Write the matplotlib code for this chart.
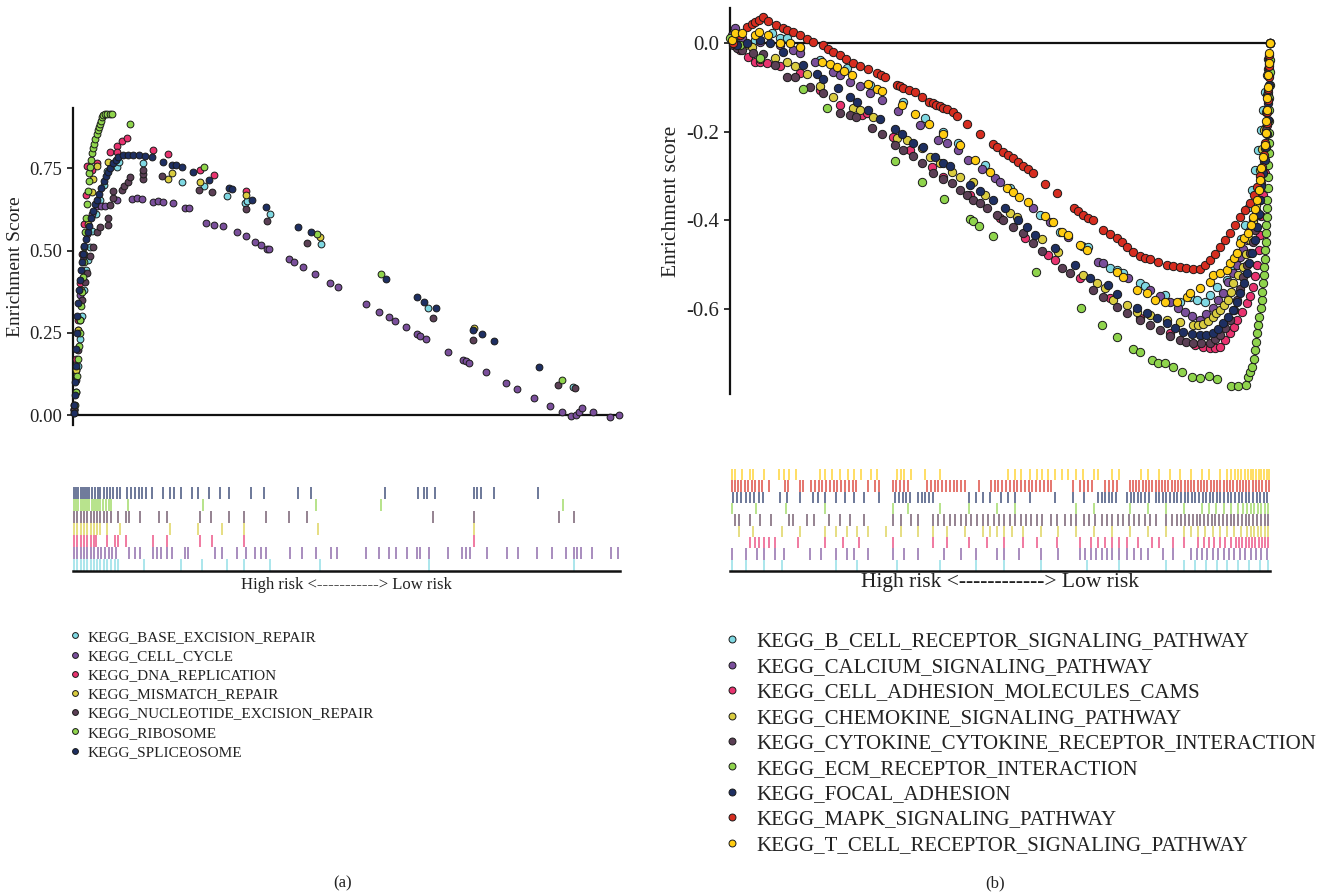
import matplotlib
matplotlib.use('Agg')
import matplotlib.pyplot as plt
from matplotlib.lines import Line2D
from matplotlib.ticker import FixedLocator, FormatStrFormatter

plt.rcParams['font.family'] = ['Liberation Serif', 'DejaVu Serif']

# ---------------- data: (rank %, enrichment score) ----------------
# panel (a)
base_excision = [(0.2, 0.02), (0.5, 0.07), (0.9, 0.15), (1.3, 0.23), (1.6, 0.30), (2.0, 0.38), (2.4, 0.44),
                 (2.7, 0.47), (3.1, 0.51), (3.5, 0.56), (4.2, 0.61), (4.9, 0.655), (5.6, 0.70), (6.2, 0.741),
                 (8.0, 0.753), (8.4, 0.768), (12.8, 0.765), (19.9, 0.707), (23.9, 0.695), (28.2, 0.665),
                 (31.4, 0.643), (31.8, 0.649), (36.0, 0.61), (45.3, 0.521), (64.9, 0.326), (91.4, 0.085)]
cell_cycle = [(0.2, 0.015), (0.55, 0.137), (0.9, 0.26), (1.3, 0.366), (1.8, 0.47), (2.6, 0.55), (3.5, 0.61),
              (4.4, 0.634), (5.1, 0.634), (5.85, 0.634), (8.0, 0.655), (10.8, 0.658), (11.7, 0.66), (12.6, 0.658),
              (14.6, 0.646), (15.5, 0.649), (16.5, 0.646), (18.3, 0.643), (20.5, 0.628), (21.2, 0.628),
              (24.3, 0.585), (25.8, 0.579), (27.4, 0.576), (30.0, 0.555), (31.6, 0.543), (33.3, 0.527),
              (34.4, 0.518), (35.5, 0.506), (35.8, 0.506), (39.5, 0.473), (40.4, 0.466), (42.0, 0.451),
              (44.2, 0.43), (47.0, 0.402), (48.4, 0.39), (53.6, 0.338), (55.9, 0.314), (57.8, 0.299),
              (58.9, 0.287), (60.9, 0.268), (62.9, 0.247), (63.4, 0.241), (64.5, 0.232), (68.6, 0.192),
              (71.3, 0.168), (71.8, 0.165), (72.4, 0.159), (75.5, 0.131), (79.2, 0.098), (81.2, 0.079),
              (84.3, 0.052), (87.2, 0.027), (89.4, 0.009), (91.0, -0.003), (92.0, 0.0), (92.5, 0.009),
              (93.1, 0.021), (95.1, 0.009), (98.2, -0.006), (99.8, 0.0)]
dna_replication = [(0.2, 0.03), (0.55, 0.17), (0.9, 0.29), (1.3, 0.40), (1.65, 0.49), (2.0, 0.58), (2.4, 0.67),
                   (2.56, 0.756), (3.47, 0.744), (4.39, 0.765), (6.76, 0.799), (8.0, 0.817), (8.0, 0.80),
                   (8.96, 0.832), (9.87, 0.841), (14.6, 0.805), (17.4, 0.793), (23.2, 0.744), (25.8, 0.729),
                   (31.6, 0.68)]
mismatch_repair = [(0.2, 0.02), (0.55, 0.137), (0.9, 0.26), (1.46, 0.38), (2.0, 0.49), (2.74, 0.58),
                   (3.47, 0.677), (3.66, 0.716), (4.39, 0.756), (6.4, 0.768), (17.4, 0.716), (18.1, 0.735),
                   (23.2, 0.707), (31.6, 0.668), (45.2, 0.54), (73.3, 0.265)]
nucleotide_excision = [(0.2, 0.015), (0.55, 0.107), (0.9, 0.198), (1.28, 0.29), (1.65, 0.35), (2.19, 0.405),
                       (2.56, 0.433), (3.1, 0.482), (3.66, 0.512), (4.39, 0.555), (4.94, 0.573), (6.4, 0.579),
                       (6.4, 0.60), (6.76, 0.637), (7.3, 0.659), (7.3, 0.68), (8.96, 0.683), (9.3, 0.695),
                       (10.05, 0.707), (10.4, 0.723), (12.8, 0.716), (12.8, 0.732), (12.8, 0.744), (16.3, 0.726),
                       (23.0, 0.683), (25.4, 0.677), (31.6, 0.625), (35.5, 0.591), (42.8, 0.524), (65.8, 0.296),
                       (73.1, 0.229), (88.7, 0.091), (91.8, 0.082)]
ribosome = [(0.1, 0.005), (0.3, 0.03), (0.5, 0.07), (0.7, 0.12), (0.9, 0.17), (1.05, 0.21), (1.2, 0.25),
            (1.35, 0.29), (1.5, 0.33), (1.65, 0.375), (1.8, 0.42), (1.95, 0.465), (2.1, 0.51), (2.25, 0.555),
            (2.4, 0.60), (2.55, 0.64), (2.7, 0.68), (2.85, 0.71), (3.0, 0.735), (3.15, 0.755), (3.3, 0.775),
            (3.5, 0.795), (3.7, 0.81), (3.9, 0.825), (4.1, 0.84), (4.3, 0.855), (4.5, 0.865), (4.7, 0.875),
            (4.9, 0.885), (5.1, 0.895), (5.3, 0.905), (5.5, 0.912), (5.9, 0.915), (6.3, 0.915), (6.7, 0.915),
            (7.1, 0.915), (10.4, 0.884), (23.9, 0.753), (44.6, 0.549), (56.3, 0.43), (89.4, 0.107)]
spliceosome = [(0.1, 0.005), (0.2, 0.03), (0.3, 0.06), (0.4, 0.10), (0.5, 0.15), (0.6, 0.20), (0.7, 0.25),
               (0.8, 0.30), (0.9, 0.34), (1.05, 0.38), (1.2, 0.41), (1.4, 0.44), (1.6, 0.465), (1.85, 0.49),
               (2.1, 0.515), (2.4, 0.535), (2.7, 0.555), (3.0, 0.575), (3.3, 0.60), (3.6, 0.62), (4.0, 0.64),
               (4.4, 0.655), (4.8, 0.672), (5.2, 0.69), (5.6, 0.71), (6.0, 0.725), (6.4, 0.74), (6.8, 0.75),
               (7.3, 0.765), (7.8, 0.775), (8.3, 0.785), (9.1, 0.79), (10.0, 0.79), (11.0, 0.79), (12.0, 0.79),
               (13.2, 0.787), (14.4, 0.784), (16.5, 0.77), (18.1, 0.76), (18.8, 0.76), (19.9, 0.753),
               (21.9, 0.738), (24.9, 0.713), (28.5, 0.689), (29.1, 0.686), (32.7, 0.652), (35.3, 0.631),
               (41.1, 0.573), (43.5, 0.555), (57.2, 0.415), (62.9, 0.36), (64.2, 0.344), (66.4, 0.326),
               (73.1, 0.259), (74.8, 0.247), (77.0, 0.226), (85.2, 0.146)]

# panel (b)
b_cell = [(0.4, 0.007), (1.9, 0.011), (4.6, 0.007), (7.8, 0.023), (9.3, 0.011), (10.6, 0.011), (13.0, -0.011),
          (16.7, -0.038), (21.7, -0.056), (25.9, -0.095), (32.0, -0.133), (36.1, -0.169), (39.4, -0.2),
          (42.2, -0.226), (47.2, -0.275), (51.9, -0.327), (57.4, -0.388), (61.1, -0.427), (65.2, -0.458),
          (66.3, -0.46), (70.4, -0.508), (71.7, -0.512), (72.8, -0.519), (75.9, -0.542), (76.9, -0.549),
          (80.6, -0.569), (83.3, -0.585), (85.2, -0.573), (86.5, -0.58), (88.0, -0.585), (88.9, -0.569),
          (90.2, -0.551), (92.0, -0.535), (93.0, -0.505), (93.9, -0.474), (94.7, -0.442), (95.4, -0.411),
          (96.1, -0.37), (96.7, -0.332), (97.3, -0.287), (97.8, -0.242), (98.3, -0.196), (98.7, -0.151),
          (99.1, -0.11), (99.4, -0.072), (99.7, -0.036), (100.0, 0.0)]
calcium = [(0.4, 0.018), (0.9, 0.034), (2.2, 0.011), (5.6, 0.002), (9.3, -0.005), (11.7, -0.016), (13.0, -0.023),
           (15.7, -0.043), (19.1, -0.065), (20.4, -0.072), (22.2, -0.088), (24.1, -0.097), (25.9, -0.113),
           (28.1, -0.129), (31.1, -0.153), (35.2, -0.185), (38.5, -0.219), (40.2, -0.226), (42.2, -0.242),
           (44.1, -0.264), (46.7, -0.284), (49.1, -0.305), (50.0, -0.314), (56.1, -0.372), (59.3, -0.404),
           (62.6, -0.438), (68.1, -0.494), (69.1, -0.497), (73.7, -0.53), (77.8, -0.558), (79.6, -0.57),
           (81.5, -0.585), (83.0, -0.597), (84.3, -0.607), (85.6, -0.616), (87.0, -0.625), (88.2, -0.612),
           (89.4, -0.598), (90.4, -0.58), (91.3, -0.564), (92.2, -0.54), (93.1, -0.519), (93.8, -0.5),
           (94.4, -0.483), (95.0, -0.465), (95.7, -0.445), (96.3, -0.422), (96.9, -0.4), (97.4, -0.377),
           (97.8, -0.354), (98.2, -0.328), (98.5, -0.302), (98.8, -0.266), (99.1, -0.23), (99.3, -0.19),
           (99.4, -0.151), (99.6, -0.11), (99.8, -0.072), (99.9, -0.036), (100.0, 0.0)]
cell_adhesion = [(0.6, 0.002), (1.9, -0.016), (3.3, -0.032), (4.6, -0.043), (5.6, -0.043), (6.9, -0.045),
                 (9.3, -0.052), (13.0, -0.068), (16.7, -0.106), (20.4, -0.14), (24.4, -0.163), (25.4, -0.158),
                 (30.2, -0.212), (33.3, -0.242), (37.4, -0.28), (39.4, -0.302), (44.4, -0.343), (50.0, -0.395),
                 (54.6, -0.44), (58.9, -0.479), (60.2, -0.49), (64.8, -0.53), (70.4, -0.576), (75.9, -0.621),
                 (81.5, -0.655), (86.1, -0.682), (87.5, -0.686), (88.9, -0.688), (89.8, -0.688), (90.7, -0.686),
                 (91.6, -0.67), (92.6, -0.655), (93.3, -0.64), (93.9, -0.625), (94.8, -0.606), (95.7, -0.587),
                 (96.3, -0.57), (96.9, -0.551), (97.3, -0.526), (97.6, -0.501), (97.9, -0.467), (98.1, -0.433),
                 (98.4, -0.39), (98.7, -0.343), (99.0, -0.293), (99.3, -0.242), (99.45, -0.185), (99.6, -0.129),
                 (99.8, -0.065), (100.0, 0.0)]
chemokine = [(0.6, 0.007), (2.8, -0.005), (4.1, -0.009), (5.6, -0.036), (8.3, -0.034), (10.6, -0.043),
             (12.0, -0.052), (14.3, -0.07), (16.7, -0.097), (19.1, -0.122), (22.8, -0.147), (24.1, -0.151),
             (26.5, -0.167), (30.9, -0.214), (32.8, -0.219), (35.6, -0.237), (37.0, -0.257), (38.9, -0.271),
             (41.1, -0.291), (42.6, -0.302), (45.0, -0.314), (47.2, -0.343), (51.9, -0.384), (53.1, -0.393),
             (57.8, -0.442), (60.7, -0.472), (65.4, -0.524), (68.0, -0.542), (69.4, -0.553), (70.9, -0.58),
             (73.5, -0.591), (75.4, -0.607), (77.8, -0.614), (80.9, -0.625), (83.3, -0.63), (85.7, -0.637),
             (86.6, -0.636), (87.6, -0.634), (88.5, -0.627), (89.4, -0.618), (90.0, -0.61), (90.7, -0.603),
             (91.5, -0.592), (92.2, -0.58), (92.7, -0.561), (93.1, -0.542), (94.0, -0.524), (95.0, -0.506),
             (95.6, -0.476), (96.3, -0.445), (96.8, -0.405), (97.4, -0.366), (97.7, -0.326), (98.1, -0.287),
             (98.5, -0.24), (98.9, -0.196), (99.2, -0.156), (99.4, -0.117), (99.7, -0.058), (100.0, 0.0)]
cytokine = [(0.6, -0.005), (1.3, -0.011), (2.2, -0.016), (4.3, -0.023), (6.1, -0.025), (8.3, -0.05),
            (10.6, -0.077), (12.0, -0.077), (14.8, -0.099), (17.2, -0.113), (20.4, -0.158), (22.2, -0.163),
            (23.3, -0.167), (26.3, -0.192), (28.1, -0.205), (30.6, -0.23), (32.0, -0.242), (33.9, -0.255),
            (35.6, -0.271), (37.6, -0.293), (39.4, -0.307), (41.1, -0.316), (42.6, -0.332), (43.9, -0.343),
            (45.0, -0.354), (46.3, -0.361), (47.6, -0.372), (49.4, -0.388), (50.6, -0.4), (52.4, -0.415),
            (54.3, -0.429), (56.1, -0.451), (57.8, -0.47), (61.5, -0.508), (63.0, -0.519), (67.2, -0.558),
            (69.1, -0.573), (71.7, -0.596), (73.5, -0.609), (75.9, -0.625), (77.8, -0.637), (79.6, -0.648),
            (81.5, -0.66), (83.3, -0.67), (84.5, -0.674), (85.7, -0.677), (87.3, -0.677), (88.9, -0.677),
            (89.8, -0.668), (90.7, -0.659), (91.6, -0.642), (92.6, -0.625), (93.3, -0.603), (93.9, -0.58),
            (94.5, -0.554), (95.0, -0.528), (95.7, -0.501), (96.3, -0.474), (96.8, -0.448), (97.2, -0.422),
            (97.7, -0.388), (98.1, -0.354), (98.4, -0.317), (98.7, -0.28), (99.0, -0.238), (99.3, -0.196),
            (99.45, -0.156), (99.6, -0.117), (99.8, -0.058), (100.0, 0.0)]
ecm = [(0.0, 0.011), (1.9, -0.005), (5.6, -0.034), (13.5, -0.104), (18.0, -0.147), (30.6, -0.266),
       (35.6, -0.314), (39.6, -0.352), (44.4, -0.397), (45.0, -0.402), (46.1, -0.413), (48.7, -0.436),
       (56.7, -0.517), (65.0, -0.598), (68.9, -0.637), (71.7, -0.664), (74.6, -0.691), (75.9, -0.698),
       (78.1, -0.716), (79.3, -0.722), (80.6, -0.722), (82.0, -0.731), (83.7, -0.743), (85.6, -0.754),
       (87.0, -0.756), (88.7, -0.752), (90.2, -0.758), (92.8, -0.774), (94.1, -0.774), (95.6, -0.772),
       (95.9, -0.754), (96.3, -0.742), (96.7, -0.731), (97.0, -0.712), (97.2, -0.693), (97.4, -0.674),
       (97.6, -0.655), (97.8, -0.636), (98.0, -0.618), (98.3, -0.599), (98.5, -0.58), (98.6, -0.561),
       (98.7, -0.542), (98.8, -0.524), (98.9, -0.506), (99.0, -0.487), (99.1, -0.467), (99.2, -0.448),
       (99.3, -0.429), (99.35, -0.411), (99.4, -0.393), (99.45, -0.373), (99.5, -0.354), (99.55, -0.328),
       (99.6, -0.302), (99.7, -0.275), (99.75, -0.248), (99.8, -0.225), (99.8, -0.203), (99.85, -0.177),
       (99.85, -0.151), (99.9, -0.123), (100.0, -0.095), (100.0, -0.066), (100.0, -0.038)]
focal_adhesion = [(0.6, 0.0), (1.3, -0.005), (3.2, 0.0), (5.6, 0.007), (7.4, 0.0), (9.8, -0.02), (13.5, -0.05),
                  (16.1, -0.07), (17.2, -0.081), (20.0, -0.102), (22.2, -0.122), (23.5, -0.133), (25.6, -0.151),
                  (27.8, -0.172), (30.6, -0.194), (31.9, -0.205), (33.9, -0.226), (35.7, -0.235), (38.0, -0.257),
                  (39.4, -0.271), (40.7, -0.278), (44.4, -0.321), (46.3, -0.334), (48.7, -0.354), (50.9, -0.372),
                  (53.3, -0.4), (55.0, -0.415), (56.5, -0.433), (60.2, -0.463), (63.9, -0.501), (66.7, -0.53),
                  (70.0, -0.546), (71.7, -0.567), (75.4, -0.598), (77.2, -0.609), (79.0, -0.62), (80.9, -0.632),
                  (82.4, -0.642), (83.9, -0.652), (85.5, -0.656), (87.0, -0.659), (88.2, -0.658), (89.4, -0.655),
                  (90.4, -0.645), (91.3, -0.632), (92.2, -0.618), (93.1, -0.603), (93.8, -0.584), (94.4, -0.564),
                  (95.1, -0.542), (95.7, -0.519), (96.2, -0.497), (96.7, -0.474), (97.2, -0.445), (97.6, -0.415),
                  (97.9, -0.385), (98.1, -0.354), (98.4, -0.323), (98.7, -0.293), (99.0, -0.264), (99.3, -0.235),
                  (99.45, -0.205), (99.6, -0.174), (99.7, -0.135), (99.8, -0.095), (99.9, -0.048), (100.0, 0.0)]
mapk = [(0.6, 0.0), (1.9, 0.018), (3.2, 0.036), (4.0, 0.042), (4.6, 0.047), (5.3, 0.053), (6.1, 0.059),
        (7.0, 0.05), (8.5, 0.041), (9.8, 0.034), (10.6, 0.029), (11.7, 0.025), (13.0, 0.018), (14.3, 0.009),
        (15.4, 0.002), (17.2, -0.005), (18.1, -0.014), (19.1, -0.02), (20.4, -0.027), (21.5, -0.036),
        (22.8, -0.045), (24.1, -0.052), (25.6, -0.059), (27.2, -0.068), (28.0, -0.072), (28.7, -0.077),
        (30.9, -0.095), (31.5, -0.098), (32.0, -0.102), (33.2, -0.106), (34.3, -0.111), (35.6, -0.122),
        (36.9, -0.133), (37.5, -0.136), (38.1, -0.139), (38.9, -0.142), (39.5, -0.146), (40.2, -0.15),
        (41.3, -0.156), (42.0, -0.165), (43.9, -0.183), (46.3, -0.205), (48.7, -0.228), (49.5, -0.234),
        (50.6, -0.246), (51.5, -0.253), (52.4, -0.26), (53.4, -0.269), (54.3, -0.278), (55.2, -0.285),
        (56.1, -0.293), (58.3, -0.318), (60.6, -0.339), (63.7, -0.372), (64.5, -0.38), (65.4, -0.388),
        (66.3, -0.394), (67.2, -0.40), (69.1, -0.422), (70.4, -0.431), (71.7, -0.44), (72.6, -0.45),
        (73.5, -0.46), (74.7, -0.471), (75.9, -0.481), (76.8, -0.485), (77.8, -0.488), (79.3, -0.495),
        (80.9, -0.501), (82.1, -0.504), (83.3, -0.506), (84.5, -0.508), (85.7, -0.51), (87.0, -0.51),
        (88.0, -0.50), (88.9, -0.49), (89.8, -0.475), (90.7, -0.46), (91.6, -0.445), (92.6, -0.429),
        (93.5, -0.41), (94.4, -0.393), (95.3, -0.377), (96.3, -0.361), (97.0, -0.343), (97.6, -0.325),
        (98.1, -0.30), (98.5, -0.28), (98.8, -0.253), (99.1, -0.226), (99.3, -0.204), (99.4, -0.181),
        (99.5, -0.155), (99.6, -0.129), (99.7, -0.103), (99.8, -0.077), (99.85, -0.052), (99.9, -0.027),
        (100.0, 0.0)]
t_cell = [(0.4, 0.007), (0.9, 0.023), (2.2, 0.023), (4.6, 0.018), (5.4, 0.025), (7.0, 0.018), (9.3, 0.0),
          (11.1, 0.0), (13.0, -0.009), (17.0, -0.043), (18.5, -0.047), (19.8, -0.054), (21.1, -0.063),
          (22.6, -0.072), (25.6, -0.093), (27.2, -0.104), (28.1, -0.108), (31.9, -0.14), (34.3, -0.16),
          (36.9, -0.183), (39.4, -0.205), (42.6, -0.23), (45.4, -0.264), (48.1, -0.291), (51.3, -0.327),
          (52.4, -0.336), (53.5, -0.348), (55.2, -0.359), (58.3, -0.391), (59.8, -0.404), (61.5, -0.427),
          (62.6, -0.433), (64.8, -0.456), (66.1, -0.467), (71.7, -0.517), (72.8, -0.528), (75.4, -0.558),
          (77.2, -0.564), (78.7, -0.58), (80.6, -0.585), (82.8, -0.585), (84.6, -0.573), (85.2, -0.564),
          (87.0, -0.553), (88.9, -0.54), (89.4, -0.524), (90.7, -0.518), (92.0, -0.512), (92.6, -0.497),
          (93.3, -0.485), (93.9, -0.474), (94.4, -0.451), (95.2, -0.44), (95.9, -0.429), (96.4, -0.411),
          (96.9, -0.393), (97.3, -0.374), (97.6, -0.354), (97.9, -0.331), (98.1, -0.309), (98.4, -0.283),
          (98.7, -0.257), (99.0, -0.23), (99.3, -0.203), (99.35, -0.177), (99.4, -0.151), (99.5, -0.125),
          (99.6, -0.099), (99.7, -0.072), (99.8, -0.045), (99.9, -0.022), (100.0, 0.0)]

# ---------------- data: hit positions in ranked list (rank %) ----------------
base_hits = [0.2, 0.8, 1.4, 2.0, 2.6, 3.2, 3.8, 4.4, 5.0, 5.6, 6.2, 6.9, 7.6, 8.3, 13.0, 19.8, 23.5, 28.2,
             31.3, 36.0, 45.2, 65.1, 91.5]
cell_cycle_hits = [0.2, 0.8, 1.4, 2.0, 2.6, 3.2, 3.8, 4.5, 5.2, 5.9, 6.6, 7.2, 7.9, 10.3, 11.3, 12.3, 14.7,
                   15.4, 16.0, 17.1, 18.1, 20.4, 21.1, 25.9, 27.2, 29.9, 31.6, 33.3, 34.3, 35.3, 39.7, 41.8,
                   44.5, 47.2, 48.2, 53.6, 56.0, 57.7, 59.0, 61.1, 62.8, 63.4, 65.1, 68.5, 71.2, 71.9, 72.6,
                   75.6, 79.4, 81.4, 84.8, 87.5, 90.2, 91.5, 92.2, 92.9, 94.9, 98.3, 99.7]
dna_hits = [0.2, 0.8, 1.4, 2.0, 2.6, 3.2, 3.8, 4.2, 6.2, 7.6, 8.3, 9.6, 14.7, 17.1, 23.2, 25.5, 31.3, 73.3]
mismatch_hits = [0.2, 0.8, 1.4, 2.0, 2.6, 3.2, 3.8, 4.4, 4.9, 6.2, 8.6, 17.7, 22.8, 27.2, 31.3, 44.8, 73.3]
ner_hits = [0.2, 0.8, 1.4, 2.0, 2.6, 3.2, 3.8, 4.4, 5.0, 5.6, 6.2, 6.9, 8.3, 9.6, 10.3, 12.3, 15.7, 17.1,
            23.2, 25.2, 28.6, 31.3, 35.3, 39.4, 42.8, 65.8, 73.3, 88.8, 91.5]
ribo_hits = [0.2, 0.6, 1.0, 1.4, 1.8, 2.2, 2.6, 3.0, 3.4, 3.8, 4.2, 4.6, 5.0, 5.5, 6.0, 6.5, 6.9, 10.0, 23.8,
             44.5, 56.3, 89.5]
splice_hits = [0.2, 0.6, 1.0, 1.4, 1.8, 2.2, 2.6, 3.0, 3.5, 4.0, 4.5, 5.0, 5.6, 6.2, 6.8, 7.4, 8.0, 8.6,
               9.95, 10.6, 11.3, 12.0, 12.7, 13.3, 14.4, 16.4, 17.7, 18.4, 19.8, 21.8, 22.8, 24.8, 26.9, 28.6,
               32.6, 35.0, 41.1, 43.5, 57.0, 63.1, 64.1, 64.8, 66.2, 73.3, 73.9, 74.6, 77.0, 85.1]

bcell_hits = [0.3, 3.0, 6.3, 9.6, 19.6, 23.6, 30.9, 38.9, 45.5, 50.8, 57.5, 66.1, 72.1, 80.8, 84.1, 86.1, 88.1,
              90.1, 92.1, 94.1, 96.1, 98.1, 99.7]
calcium_hits = [0.3, 3.0, 5.0, 6.3, 8.3, 10.0, 14.9, 16.9, 19.6, 21.6, 22.9, 25.6, 30.2, 32.2, 34.9, 39.6,
                42.8, 45.5, 49.5, 50.8, 53.5, 57.5, 60.8, 64.8, 65.8, 66.8, 67.8, 68.8, 69.8, 70.8, 72.1, 73.5,
                74.8, 76.1, 77.4, 80.1, 82.1, 85.4, 86.4, 87.4, 88.4, 89.4, 90.4, 91.4, 92.4, 93.4, 94.4,
                95.4, 96.4, 97.4, 98.4, 99.4]
celladh_hits = [3.7, 4.7, 5.3, 6.3, 7.3, 8.3, 12.6, 17.6, 20.9, 23.9, 30.2, 37.6, 40.2, 44.2, 47.5, 50.8,
                54.2, 56.8, 60.5, 64.8, 66.8, 68.1, 69.5, 70.8, 72.1, 73.5, 75.5, 78.1, 79.4, 82.1, 84.1, 86.7,
                87.7, 88.7, 89.7, 90.7, 91.7, 92.7, 93.7, 94.3, 94.9, 95.5, 96.1, 96.7, 97.3, 97.9, 98.5,
                99.1, 99.7]
chemokine_hits = [1.7, 4.3, 9.6, 12.9, 17.6, 19.6, 21.6, 23.6, 25.6, 28.9, 31.6, 34.9, 37.6, 40.2, 43.5,
                  46.8, 48.2, 49.5, 50.8, 52.2, 54.2, 57.5, 60.8, 64.1, 67.4, 70.8, 74.1, 77.4, 80.8, 84.1,
                  85.4, 86.7, 88.0, 89.4, 90.7, 92.0, 93.4, 94.7, 95.7, 96.4, 97.0, 97.7, 98.4, 99.0, 99.7]
cytokine_hits = [1.0, 1.7, 3.7, 5.6, 7.6, 11.0, 11.6, 14.3, 15.6, 18.3, 20.3, 22.3, 24.9, 30.2, 31.6, 33.6,
                 34.9, 37.6, 38.6, 39.6, 40.7, 41.7, 42.7, 43.7, 44.7, 45.7, 46.8, 47.8, 48.8, 49.8, 50.8,
                 51.8, 52.8, 53.8, 54.8, 55.8, 56.8, 57.8, 59.5, 60.5, 62.1, 63.1, 64.1, 65.5, 66.5, 67.5,
                 68.8, 69.8, 70.8, 71.8, 72.8, 73.8, 74.8, 75.8, 76.8, 77.8, 78.8, 80.8, 81.8, 82.8, 83.6,
                 84.3, 85.0, 85.7, 86.4, 87.1, 87.8, 88.5, 89.2, 89.9, 90.6, 91.3, 92.0, 92.7, 93.4, 94.1,
                 94.8, 95.5, 96.2, 96.9, 97.6, 98.3, 99.0, 99.7]
ecm_hits = [0.3, 4.9, 10.3, 17.6, 30.2, 32.9, 38.9, 44.2, 49.5, 52.8, 64.1, 67.4, 74.1, 77.4, 80.8, 84.1,
            87.4, 88.7, 90.0, 91.4, 92.7, 94.0, 95.0, 95.7, 96.4, 97.0, 97.7, 98.4, 99.0, 99.7]
focal_hits = [0.5, 1.3, 2.1, 2.9, 3.7, 4.5, 5.3, 6.1, 9.3, 10.6, 13.0, 15.3, 16.3, 17.6, 19.6, 21.3, 22.9,
              24.9, 27.6, 30.6, 31.3, 32.0, 32.6, 33.3, 34.9, 35.6, 36.2, 36.9, 37.6, 44.2, 45.5, 46.8, 48.2,
              50.2, 51.5, 52.8, 55.5, 60.1, 63.5, 65.5, 68.1, 68.8, 69.5, 70.2, 70.8, 71.5, 73.5, 74.2, 74.8,
              75.5, 76.2, 76.8, 77.5, 78.8, 79.5, 80.2, 80.8, 81.5, 82.2, 82.8, 83.5, 84.2, 84.8, 85.5, 86.2,
              86.8, 87.5, 88.2, 88.8, 89.5, 90.2, 90.8, 91.5, 92.2, 92.8, 93.5, 94.2, 94.8, 95.5, 96.2, 96.8,
              97.5, 98.2, 98.8, 99.5]
mapk_hits = [0.3, 0.9, 1.5, 2.1, 2.8, 3.4, 4.0, 4.7, 5.3, 6.0, 7.3, 10.1, 10.8, 12.9, 13.6, 15.0, 15.7, 16.4,
             17.1, 17.8, 18.5, 19.2, 19.9, 20.6, 21.3, 22.0, 22.7, 23.4, 25.5, 26.9, 27.6, 30.2, 30.8, 31.5,
             32.2, 32.9, 36.5, 37.2, 37.9, 38.6, 39.3, 40.0, 40.7, 41.4, 42.1, 42.8, 43.5, 46.2, 48.3, 49.0,
             49.7, 50.4, 51.1, 51.8, 52.5, 53.2, 53.9, 54.6, 55.3, 56.0, 56.7, 57.4, 58.1, 58.8, 59.5, 63.5,
             64.9, 65.6, 66.3, 67.0, 69.5, 70.2, 70.9, 71.6, 74.0, 74.6, 75.2, 75.8, 76.4, 77.0, 77.6, 78.2,
             78.8, 79.4, 80.0, 80.6, 81.2, 81.8, 82.4, 83.0, 83.6, 84.2, 84.8, 85.4, 86.0, 86.6, 87.2, 87.8,
             88.4, 89.0, 89.6, 90.2, 90.8, 91.4, 92.0, 92.6, 93.2, 93.8, 94.4, 95.0, 95.6, 96.2, 96.8, 97.4,
             98.0, 98.6, 99.2, 99.8]
tcell_hits = [0.3, 1.0, 2.3, 3.7, 4.3, 6.3, 9.0, 10.0, 11.0, 12.3, 16.6, 17.6, 18.9, 20.3, 21.9, 22.9, 24.3,
              26.2, 27.2, 30.9, 31.6, 32.2, 33.6, 36.2, 38.9, 51.5, 52.8, 53.8, 55.5, 56.8, 57.8, 58.8, 60.1,
              61.5, 62.5, 64.1, 65.4, 67.4, 68.1, 70.8, 72.1, 76.1, 77.4, 79.4, 81.4, 83.4, 85.4, 87.4, 88.7,
              90.7, 92.0, 92.8, 93.5, 94.1, 94.7, 95.3, 95.9, 96.4, 96.9, 97.4, 97.9, 98.4, 98.9, 99.4, 99.8]

labels_a = ['KEGG_BASE_EXCISION_REPAIR', 'KEGG_CELL_CYCLE', 'KEGG_DNA_REPLICATION', 'KEGG_MISMATCH_REPAIR',
            'KEGG_NUCLEOTIDE_EXCISION_REPAIR', 'KEGG_RIBOSOME', 'KEGG_SPLICEOSOME']
labels_b = ['KEGG_B_CELL_RECEPTOR_SIGNALING_PATHWAY', 'KEGG_CALCIUM_SIGNALING_PATHWAY',
            'KEGG_CELL_ADHESION_MOLECULES_CAMS', 'KEGG_CHEMOKINE_SIGNALING_PATHWAY',
            'KEGG_CYTOKINE_CYTOKINE_RECEPTOR_INTERACTION', 'KEGG_ECM_RECEPTOR_INTERACTION',
            'KEGG_FOCAL_ADHESION', 'KEGG_MAPK_SIGNALING_PATHWAY', 'KEGG_T_CELL_RECEPTOR_SIGNALING_PATHWAY']

series_a = [base_excision, cell_cycle, dna_replication, mismatch_repair, nucleotide_excision, ribosome, spliceosome]
hits_a = [base_hits, cell_cycle_hits, dna_hits, mismatch_hits, ner_hits, ribo_hits, splice_hits]
series_b = [b_cell, calcium, cell_adhesion, chemokine, cytokine, ecm, focal_adhesion, mapk, t_cell]
hits_b = [bcell_hits, calcium_hits, celladh_hits, chemokine_hits, cytokine_hits, ecm_hits, focal_hits,
          mapk_hits, tcell_hits]

CYAN, PURPLE, PINK, OLIVE = '#7fd8e2', '#7a4f9b', '#e8336f', '#d9cc3f'
BROWN, GREEN, NAVY, RED, GOLD = '#5b3f55', '#8fd44c', '#1e2f62', '#d62d20', '#ffcc10'
colors_a = [CYAN, PURPLE, PINK, OLIVE, BROWN, GREEN, NAVY]
colors_b = [CYAN, PURPLE, PINK, OLIVE, BROWN, GREEN, NAVY, RED, GOLD]

W, H = 1331, 896
fig = plt.figure(figsize=(W / 100, H / 100), dpi=100)


def px_rect(x0, y0, x1, y1):
    return [x0 / W, 1 - y1 / H, (x1 - x0) / W, (y1 - y0) / H]


def es_panel(rect, series, colors, ylim, ticks, fmt, ylabel, fs, size):
    ax = fig.add_axes(rect)
    for pts, c in zip(series, colors):
        xs, ys = zip(*pts)
        ax.scatter(xs, ys, s=size, c=c, edgecolors='#1a1a1a', linewidths=0.7, clip_on=False, zorder=3)
    ax.axhline(0, color='#111111', lw=1.6, zorder=2)
    ax.set_xlim(0, 100)
    ax.set_ylim(*ylim)
    for s in ['top', 'right', 'bottom']:
        ax.spines[s].set_visible(False)
    ax.spines['left'].set_linewidth(1.6)
    ax.spines['left'].set_color('#111111')
    ax.set_xticks([])
    ax.yaxis.set_major_locator(FixedLocator(ticks))
    ax.yaxis.set_major_formatter(FormatStrFormatter(fmt))
    ax.tick_params(axis='y', direction='out', length=4, width=1.2, labelsize=fs, colors='#111111',
                   labelcolor='#222222')
    ax.set_ylabel(ylabel, fontsize=fs + 0.5, color='#222222', labelpad=4)
    return ax


def bar_panel(rect, hits, colors, text, fs, ytext):
    ax = fig.add_axes(rect)
    for i, (h, c) in enumerate(zip(hits, colors)):
        ax.vlines(h, i, i + 1, colors=c, lw=1.3, alpha=0.7)
    ax.set_xlim(0, 100)
    ax.set_ylim(0, len(hits))
    for s in ['top', 'right', 'left']:
        ax.spines[s].set_visible(False)
    ax.spines['bottom'].set_linewidth(1.8)
    ax.spines['bottom'].set_color('#111111')
    ax.set_xticks([])
    ax.set_yticks([])
    ax.text(0.5, ytext, text, transform=ax.transAxes, ha='center', va='center', fontsize=fs, color='#222222')
    return ax


es_panel(px_rect(73, 108, 620, 425), series_a, colors_a, (-0.03, 0.933), [0, 0.25, 0.5, 0.75], '%.2f',
         'Enrichment Score', 13.5, 24)
es_panel(px_rect(730, 8, 1270, 394), series_b, colors_b, (-0.792, 0.079), [-0.6, -0.4, -0.2, 0.0], '%.1f',
         'Enrichment score', 15, 36)

bar_panel(px_rect(73, 487, 620, 571), hits_a, colors_a, 'High risk <-----------> Low risk', 12, -0.17)
bar_panel(px_rect(730, 469, 1270, 571), hits_b, colors_b, 'High risk <------------> Low risk', 15.5, -0.11)


def handles(colors, ms):
    return [Line2D([], [], marker='o', ls='none', markersize=ms, markerfacecolor=c,
                   markeredgecolor='#1a1a1a', markeredgewidth=0.7) for c in colors]


fig.legend(handles(colors_a, 4.2), labels_a, loc='upper left', bbox_to_anchor=(70 / W, 1 - 630 / H),
           frameon=False, fontsize=11, handlelength=0.6, handletextpad=0.55, labelspacing=0.36,
           borderpad=0, borderaxespad=0, labelcolor='#222222')
fig.legend(handles(colors_b, 5), labels_b, loc='upper left', bbox_to_anchor=(727 / W, 1 - 632 / H),
           frameon=False, fontsize=15, handlelength=0.5, handletextpad=0.9, labelspacing=0.28,
           borderpad=0, borderaxespad=0, labelcolor='#222222')

fig.text(343 / W, 1 - 883 / H, '(a)', ha='center', va='center', fontsize=12, color='#222222')
fig.text(995 / W, 1 - 883 / H, '(b)', ha='center', va='center', fontsize=12, color='#222222')

fig.savefig('out.png', dpi=100)
